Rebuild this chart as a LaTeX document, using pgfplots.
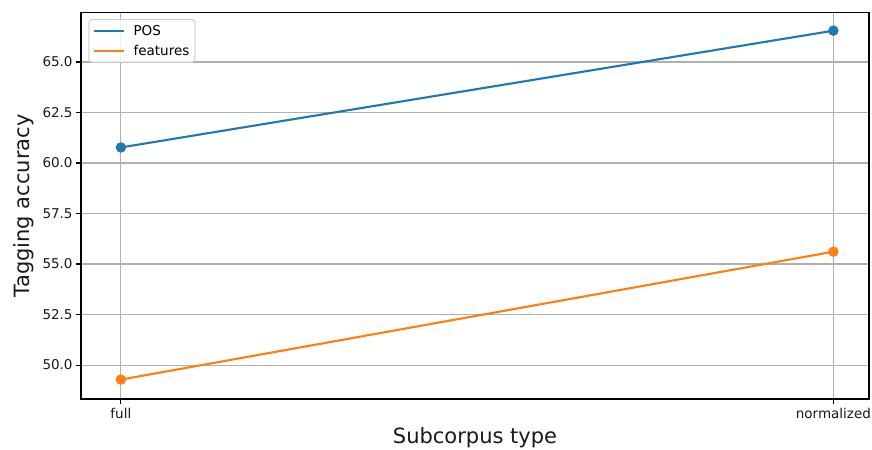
\documentclass[border=0pt]{standalone}
\usepackage{pgfplots}
\pgfplotsset{compat=1.18}
\usepackage{fontspec}
\setmainfont{DejaVu Sans}
\definecolor{cA}{HTML}{1F77B4}
\definecolor{cB}{HTML}{FF7F0E}
\begin{document}
\begin{tikzpicture}
\begin{axis}[
  scale only axis,
  width=788bp, height=386.5bp,
  xmin=-0.056, xmax=1.05,
  ymin=48.32, ymax=67.45,
  xtick={0,1}, xticklabels={full,normalized},
  ytick={50,52.5,55,57.5,60,62.5,65},
  yticklabel style={/pgf/number format/.cd,fixed,fixed zerofill,precision=1},
  /pgf/number format/assume math mode=true,
  tick label style={font=\fontsize{13.5bp}{16bp}\selectfont, color=black!90},
  xticklabel style={yshift=-1bp},
  tick align=outside, tick pos=left,
  major tick length=4.9bp,
  every tick/.style={black, line width=1.1bp},
  axis line style={black, line width=1.1bp},
  grid=major,
  major grid style={color=black!31, line width=1.1bp},
  xlabel={Subcorpus type}, ylabel={Tagging accuracy},
  label style={font=\fontsize{21bp}{24bp}\selectfont, color=black!90},
  xlabel style={yshift=-2bp},
  ylabel style={yshift=2bp},
  legend style={font=\fontsize{13.5bp}{16bp}\selectfont, draw=black!20, line width=1bp, rounded corners=3bp, fill=white, fill opacity=0.8, text opacity=1, at={(0.0095,0.983)}, anchor=north west, row sep=4.5bp, inner sep=3.5bp},
  legend cell align=left,
  legend image code/.code={\draw[#1, mark=none] (0cm,0cm) -- (30bp,0cm); \path (37bp,0cm);},
]
\addplot[color=cA, line width=2.1bp, mark=*, mark size=4.1bp, mark options={fill=cA, draw=cA}] coordinates {(0,60.77) (1,66.55)};
\addlegendentry{POS}
\addplot[color=cB, line width=2.1bp, mark=*, mark size=4.1bp, mark options={fill=cB, draw=cB}] coordinates {(0,49.28) (1,55.61)};
\addlegendentry{features}
\end{axis}
\pgfresetboundingbox
\useasboundingbox ([xshift=-81bp,yshift=-51bp]current axis.south west) rectangle ([xshift=3bp,yshift=12.5bp]current axis.north east);
\end{tikzpicture}
\end{document}
